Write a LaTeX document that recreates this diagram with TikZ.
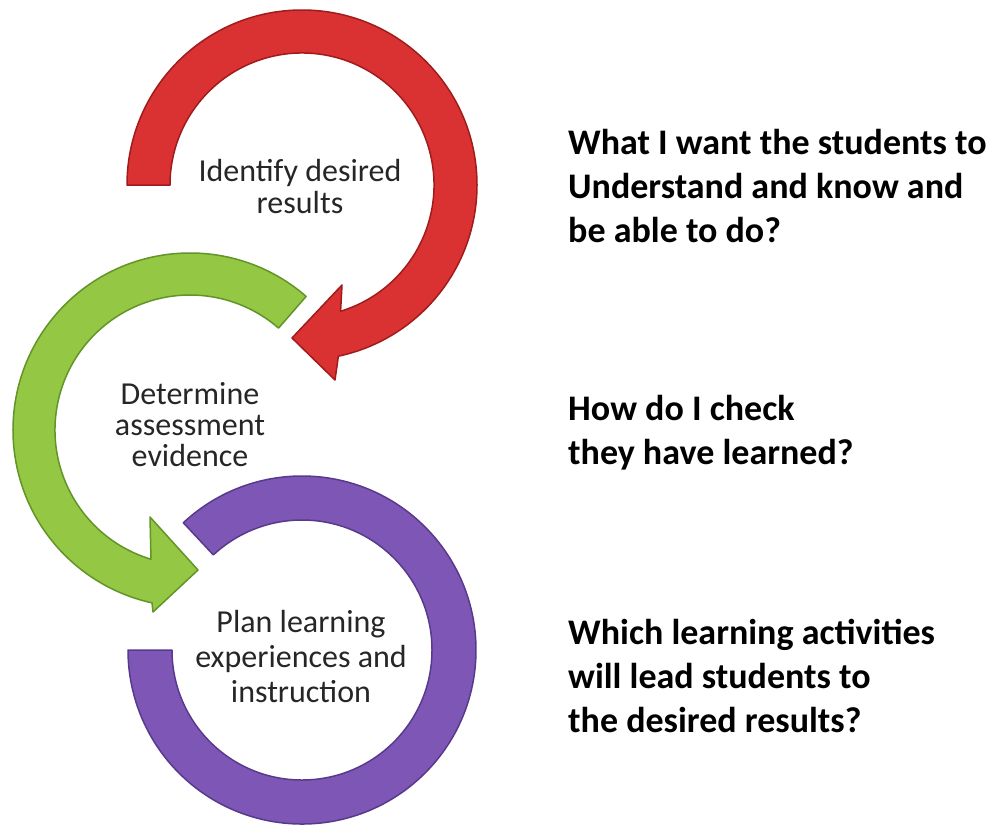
\documentclass[tikz,border=0pt]{standalone}
\usepackage{fontspec}
\setmainfont{Carlito}
\usetikzlibrary{calc}
\definecolor{redfill}{RGB}{218,50,50}
\definecolor{rededge}{RGB}{160,28,28}
\definecolor{greenfill}{RGB}{148,200,68}
\definecolor{greenedge}{RGB}{98,148,40}
\definecolor{purplefill}{RGB}{126,86,182}
\definecolor{purpleedge}{RGB}{88,58,140}
\tikzset{
  redarrow/.style={fill=redfill, draw=rededge, line width=1.5pt, line join=round},
  greenarrow/.style={fill=greenfill, draw=greenedge, line width=1.5pt, line join=round},
  purplering/.style={fill=purplefill, draw=purpleedge, line width=1.5pt, line join=round},
  lbl/.style={align=center, text=black!85, inner sep=0pt},
  question/.style={align=left, anchor=west, inner sep=0pt, font={\fontsize{36}{44}\selectfont\bfseries}}
}
\begin{document}
\begin{tikzpicture}[x=1pt,y=1pt]
\useasboundingbox (0,0) rectangle (1000,-825);
\coordinate (rc) at (302,-185);
\coordinate (gc) at (190,-430);
\coordinate (pc) at (302,-650);
% purple ring
\path[purplering] ($(pc)+(133:174pt)$) arc[start angle=133,end angle=-180,radius=174pt]
  -- ($(pc)+(180:130pt)$) arc[start angle=-180,end angle=133,radius=130pt] -- cycle;
% green arrow
\path[greenarrow] ($(gc)+(49:177pt)$) arc[start angle=49,end angle=257.6,radius=177pt]
  -- (153,-612) -- (198,-570) -- (150,-517)
  -- ($(gc)+(253.2:135pt)$) arc[start angle=253.2,end angle=49,radius=135pt] -- cycle;
% red arrow
\path[redarrow] ($(rc)+(180:175pt)$) arc[start angle=180,end angle=-78,radius=175pt]
  -- (335,-380) -- (292,-338) -- (342,-285)
  -- ($(rc)+(-73:132pt)$) arc[start angle=-73,end angle=180,radius=132pt] -- cycle;
% labels
\node[lbl, font={\fontsize{32}{32}\selectfont}] (l1) at (300,-187) {Identify desired\\results};
\node[lbl, font={\fontsize{32}{31}\selectfont}] (l2) at (190,-425) {Determine\\assessment\\evidence};
\node[lbl, font={\fontsize{32}{35}\selectfont}] (l3) at (301,-656) {Plan learning\\experiences and\\instruction};
% questions
\node[question] (q1) at (568,-186) {What I want the students to\\Understand and know and\\be able to do?};
\node[question] (q2) at (568,-433) {How do I check\\they have learned?};
\node[question] (q3) at (568,-676) {Which learning activities\\will lead students to\\the desired results?};
\end{tikzpicture}
\end{document}
